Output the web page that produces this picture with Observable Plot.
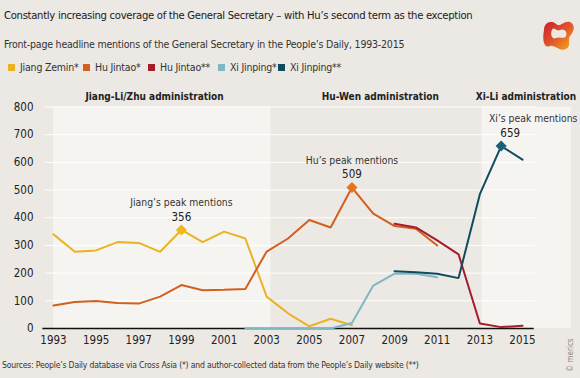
<!DOCTYPE html>
<html>
<head>
<meta charset="utf-8">
<script src="https://cdn.jsdelivr.net/npm/d3@7"></script>
<script src="https://cdn.jsdelivr.net/npm/@observablehq/plot@0.6"></script>
<style>
  html, body { margin: 0; padding: 0; }
  body { width: 580px; height: 378px; background: #ece8e3; position: relative; overflow: hidden;
         font-family: "Liberation Sans Narrow", "DejaVu Sans Condensed", "Roboto Condensed", Roboto, sans-serif; color: #222; }
  #title { position: absolute; left: 4px; top: 9px; font-size: 11.2px; letter-spacing: -0.3px; white-space: nowrap; color: #1a1a1a; }
  #subtitle { position: absolute; left: 4px; top: 38px; font-size: 10.5px; letter-spacing: -0.2px; color: #333; white-space: nowrap; }
  #legend { position: absolute; left: 0; top: 61px; width: 580px; height: 14px; font-size: 10.5px; letter-spacing: -0.2px; color: #333; white-space: nowrap; }
  #legend span.item { position: absolute; top: 0; display: inline-flex; align-items: center; }
  #legend span.sw { width: 7px; height: 7px; display: inline-block; margin-right: 5px; }
  #chart { position: absolute; left: 0; top: 84px; }
  #source { position: absolute; left: 2px; top: 360px; font-size: 8.6px; letter-spacing: -0.2px; color: #333; white-space: nowrap; }
  #copy { position: absolute; left: 566px; top: 372px; font-size: 8px; color: #888; transform: rotate(-90deg); transform-origin: 0 0; white-space: nowrap; }
  #logo { position: absolute; left: 540px; top: 16px; }
</style>
</head>
<body>
<div id="title">Constantly increasing coverage of the General Secretary – with Hu’s second term as the exception</div>
<div id="subtitle">Front-page headline mentions of the General Secretary in the People’s Daily, 1993-2015</div>
<div id="legend"></div>
<div id="chart"></div>
<div id="source">Sources: People’s Daily database via Cross Asia (*) and author-collected data from the People’s Daily website (**)</div>
<div id="copy">© merics</div>
<svg id="logo" width="36" height="36" viewBox="0 0 36 36">
  <defs>
    <linearGradient id="lg" x1="0" y1="0" x2="1" y2="1">
      <stop offset="0" stop-color="#c81e2a"/>
      <stop offset="0.5" stop-color="#e2552a"/>
      <stop offset="1" stop-color="#f5b21c"/>
    </linearGradient>
  </defs>
  <path d="M4 14 C4 6 12 4 16 8 C20 12 24 4 30 6 C36 9 34 16 30 20 C27 24 32 30 26 33 C20 36 14 28 10 30 C4 33 2 24 4 14 Z M12 14 C10 18 12 24 16 22 C20 20 24 24 26 20 C28 16 24 12 20 14 C16 16 14 10 12 14 Z" fill="url(#lg)" fill-rule="evenodd"/>
</svg>
<script>
// ---- data ----
const tickYears = [1993, 1995, 1997, 1999, 2001, 2003, 2005, 2007, 2009, 2011, 2013, 2015];
const yTicks = [0, 100, 200, 300, 400, 500, 600, 700, 800];

const jiangYears = d3.range(1993, 2008);
const jiangZemin = [340, 277, 282, 312, 309, 277, 356, 312, 350, 325, 115, 55, 8, 35, 12];

const huYears = d3.range(1993, 2012);
const huJintao1 = [83, 96, 99, 92, 90, 115, 157, 138, 140, 143, 278, 325, 392, 365, 509, 415, 370, 360, 300];

const hu2Years = d3.range(2009, 2016);
const huJintao2 = [378, 365, 318, 268, 18, 5, 10];

const xi1Years = d3.range(2002, 2012);
const xiJinping1 = [0, 0, 0, 0, 0, 20, 155, 198, 198, 185];

const xi2Years = d3.range(2009, 2016);
const xiJinping2 = [207, 203, 198, 182, 485, 659, 610];

const seriesNames = ["Jiang Zemin*", "Hu Jintao*", "Hu Jintao**", "Xi Jinping*", "Xi Jinping**"];
const seriesColors = ["#e9b323", "#d0601f", "#a31d2a", "#7fb8c4", "#0f4b5f"];
const legendX = [8, 83, 148, 218, 278];

const administrations = ["Jiang-Li/Zhu administration", "Hu-Wen administration", "Xi-Li administration"];
const adminStart = [1993, 2003.2, 2013.1];
const adminEnd = [2003.2, 2013.1, 2017.3];
const adminLabelX = [1997.74, 2008.33, 2015.16];
const adminShaded = [true, false, true];

const peakLabels = ["Jiang’s peak mentions", "Hu’s peak mentions", "Xi’s peak mentions"];

// ---- build tables ----
const rows = [];
const addSeries = (name, ys, vs) => ys.forEach((yr, i) => rows.push({series: name, year: yr, value: vs[i]}));
addSeries(seriesNames[0], jiangYears, jiangZemin);
addSeries(seriesNames[1], huYears, huJintao1);
addSeries(seriesNames[3], xi1Years, xiJinping1);
addSeries(seriesNames[2], hu2Years, huJintao2);
addSeries(seriesNames[4], xi2Years, xiJinping2);

const peakOf = (name) => d3.greatest(rows.filter(r => r.series === name), r => r.value);
const peaks = [
  {...peakOf(seriesNames[0]), label: peakLabels[0], color: "#f0b719"},
  {...peakOf(seriesNames[1]), label: peakLabels[1], color: "#e8731e"},
  {...peakOf(seriesNames[4]), label: peakLabels[2], color: "#1b5f78"}
];
const peaksLeft = peaks.slice(0, 2);
const peaksXi = peaks.slice(2);

const admins = administrations.map((name, i) => ({name, x1: adminStart[i], x2: adminEnd[i], lx: adminLabelX[i], shaded: adminShaded[i]}));

const color = d3.scaleOrdinal(seriesNames, seriesColors);

// ---- legend ----
const legend = document.getElementById("legend");
seriesNames.forEach((n, i) => {
  const s = document.createElement("span");
  s.className = "item";
  s.style.left = legendX[i] + "px";
  s.innerHTML = `<span class="sw" style="background:${seriesColors[i]}"></span>${n}`;
  legend.appendChild(s);
});

// ---- chart ----
const font = getComputedStyle(document.body).fontFamily;
const labelStyle = {fontSize: 10.3, fill: "#333", letterSpacing: "-0.2px"};
const valueStyle = {fontSize: 11.5, fontWeight: 500, fill: "#222"};
const chart = Plot.plot({
  width: 580,
  height: 270,
  marginTop: 22.5,
  marginBottom: 26,
  marginLeft: 53,
  marginRight: 58,
  style: {background: "transparent", fontFamily: font, fontSize: "11.5px", color: "#222", overflow: "visible"},
  x: {domain: [1993, 2015], ticks: tickYears, tickFormat: d => String(d), tickSize: 0, tickPadding: 7, label: null},
  y: {domain: [0, 800], ticks: yTicks, tickSize: 0, tickPadding: 20, label: null},
  marks: [
    Plot.rectY(admins.filter(a => a.shaded), {x1: "x1", x2: "x2", y1: 0, y2: 800, fill: "#f6f4f1"}),
    Plot.ruleY(yTicks.filter(d => d > 0), {x1: 1992.62, x2: 2015.6, stroke: "#ffffff", strokeWidth: 1}),
    Plot.ruleY([0], {x1: 1992.5, x2: 2015.55, stroke: "#111", strokeWidth: 1.5}),
    Plot.text(admins, {x: "lx", y: 800, text: "name", dy: -10, fontWeight: 600, fontSize: 10, fill: "#222", style: "letter-spacing:-0.45px"}),
    Plot.line(rows, {x: "year", y: "value", z: "series", stroke: d => color(d.series), strokeWidth: 2, strokeLinejoin: "miter"}),
    Plot.dot(peaks, {x: "year", y: "value", symbol: "diamond2", r: 5, fill: "color", stroke: null}),
    Plot.text(peaksLeft, {x: "year", y: "value", text: "label", dy: -27, ...labelStyle}),
    Plot.text(peaksXi, {x: "year", y: "value", text: "label", dy: -27, dx: 32, ...labelStyle}),
    Plot.text(peaksLeft, {x: "year", y: "value", text: d => String(d.value), dy: -13, ...valueStyle}),
    Plot.text(peaksXi, {x: "year", y: "value", text: d => String(d.value), dy: -13, dx: 9, ...valueStyle})
  ]
});
document.getElementById("chart").appendChild(chart);
</script>
</body>
</html>
